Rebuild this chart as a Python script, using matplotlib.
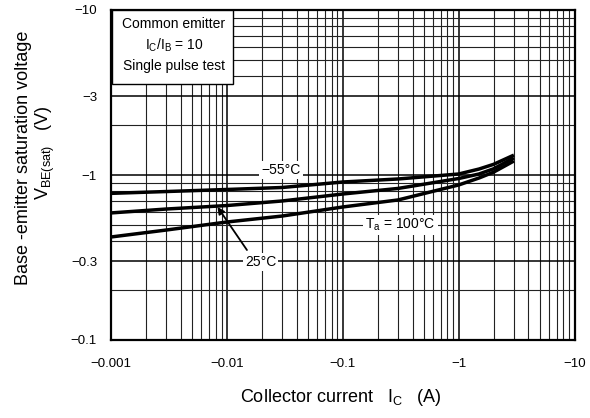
import numpy as np
import matplotlib
matplotlib.use('Agg')
from matplotlib import pyplot as plt
from matplotlib.patches import Rectangle
from matplotlib.ticker import LogLocator, NullFormatter

plt.rcParams['font.family'] = ['Liberation Sans', 'DejaVu Sans']
plt.rcParams['mathtext.fontset'] = 'custom'
plt.rcParams['mathtext.rm'] = 'Liberation Sans'

# collector current magnitude (A) and Vbe(sat) magnitude (V) per temperature
ic = [0.001, 0.003, 0.01, 0.03, 0.1, 0.3, 1, 1.5, 2, 3]
vbe_m55 = [0.774, 0.794, 0.817, 0.840, 0.907, 0.946, 1.014, 1.087, 1.16, 1.32]
vbe_25 = [0.589, 0.622, 0.653, 0.696, 0.767, 0.829, 0.952, 1.014, 1.09, 1.27]
vbe_100 = [0.421, 0.464, 0.519, 0.564, 0.640, 0.706, 0.870, 0.959, 1.04, 1.216]

xticks = [0.001, 0.01, 0.1, 1, 10]
xlabels = ['\u22120.001', '\u22120.01', '\u22120.1', '\u22121', '\u221210']
yticks = [0.1, 0.3, 1, 3, 10]
ylabels = ['\u22120.1', '\u22120.3', '\u22121', '\u22123', '\u221210']

fig = plt.figure(figsize=(5.9, 4.18), dpi=100)
ax = fig.add_axes([111/590, 78/418, 463.5/590, 330/418])

ax.set_xscale('log')
ax.set_yscale('log')
ax.set_xlim(0.001, 10)
ax.set_ylim(0.1, 10)

ax.xaxis.set_minor_locator(LogLocator(base=10, subs=np.arange(2, 10)))
ax.yaxis.set_minor_locator(LogLocator(base=10, subs=np.arange(2, 10)))
ax.xaxis.set_minor_formatter(NullFormatter())
ax.yaxis.set_minor_formatter(NullFormatter())
ax.grid(which='major', color='black', lw=1.1)
ax.grid(which='minor', color='#222222', lw=0.8)
ax.set_axisbelow(True)

ax.set_xticks(xticks)
ax.set_xticklabels(xlabels, fontsize=9.5)
ax.set_yticks(yticks)
ax.set_yticklabels(ylabels, fontsize=9.5)
ax.tick_params(which='both', length=0)
ax.tick_params(axis='x', pad=13)
ax.tick_params(axis='y', pad=10)
for s in ax.spines.values():
    s.set_linewidth(1.6)

for v in [vbe_m55, vbe_25, vbe_100]:
    ax.plot(ic, v, color='black', lw=2.5, solid_capstyle='butt')

wb = dict(facecolor='white', edgecolor='none', pad=1.5)
ax.text(0.0292, 1.072, '\u221255\u00b0C', fontsize=10, ha='center', va='center', bbox=wb)
ax.text(0.316, 0.497, 'T$_\\mathregular{a}$ = 100\u00b0C', fontsize=10, ha='center', va='center', bbox=wb)
ax.text(0.0196, 0.298, '25\u00b0C', fontsize=10, ha='center', va='center', bbox=wb)
ax.annotate('', xy=(0.0083, 0.64), xytext=(0.0149, 0.351),
            arrowprops=dict(arrowstyle='-|>', color='black', lw=1.3,
                            mutation_scale=10, shrinkA=0, shrinkB=0))

ax.add_patch(Rectangle((0.0015, 0.776), 0.2625, 0.224, transform=ax.transAxes,
                       facecolor='white', edgecolor='black', lw=1.0, zorder=5))
ax.text(0.136, 0.958, 'Common emitter', transform=ax.transAxes, fontsize=10,
        ha='center', va='center', zorder=6)
ax.text(0.136, 0.894, 'I$_\\mathregular{C}$/I$_\\mathregular{B}$ = 10', transform=ax.transAxes,
        fontsize=10, ha='center', va='center', zorder=6)
ax.text(0.136, 0.830, 'Single pulse test', transform=ax.transAxes, fontsize=10,
        ha='center', va='center', zorder=6)

fig.text(24/590, 1 - 158/418, 'Base -emitter saturation voltage', rotation=90,
         fontsize=13, ha='center', va='center')
fig.text(45/590, 1 - 153/418, 'V$_\\mathregular{BE(sat)}$   (V)', rotation=90,
         fontsize=13, ha='center', va='center')
fig.text(341/590, 1 - 398/418, 'Collector current   I$_\\mathregular{C}$   (A)',
         fontsize=13, ha='center', va='center')

fig.savefig('out.png', dpi=100)
